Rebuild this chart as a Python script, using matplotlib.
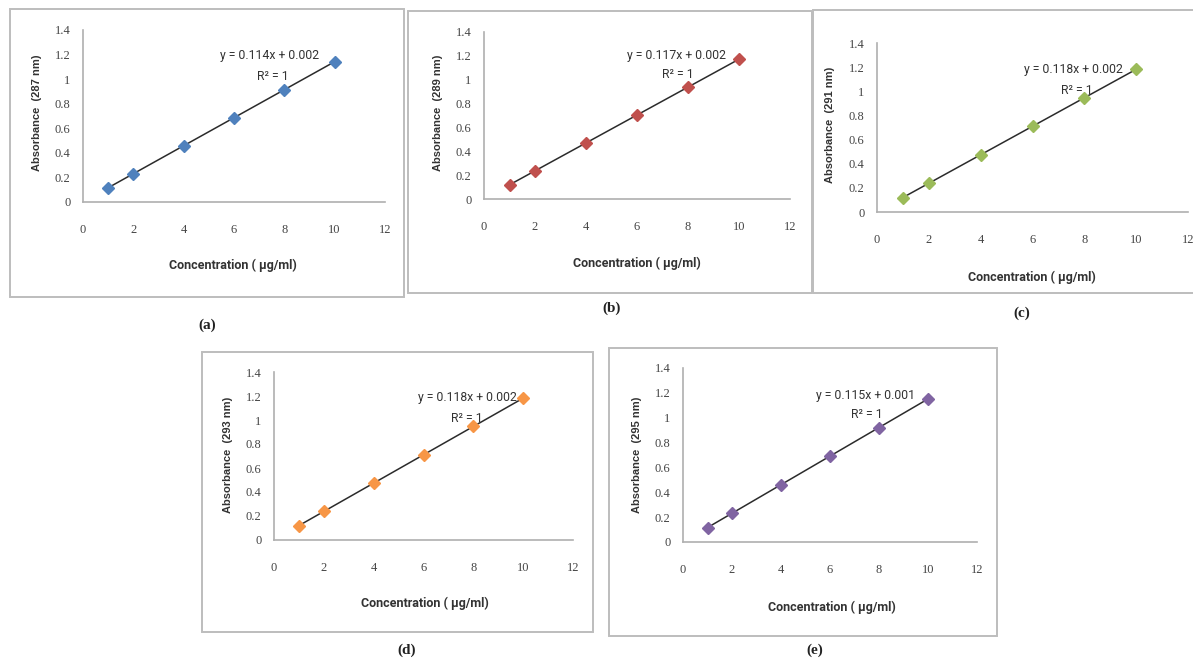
import matplotlib
matplotlib.use("Agg")
import matplotlib.pyplot as plt
from matplotlib.patches import Rectangle

W, H = 1193, 660

# ---- data ----
conc = [1, 2, 4, 6, 8, 10]
abs_287 = [0.116, 0.230, 0.458, 0.686, 0.914, 1.142]
abs_289 = [0.119, 0.236, 0.470, 0.704, 0.938, 1.172]
abs_291 = [0.120, 0.238, 0.474, 0.710, 0.946, 1.182]
abs_293 = [0.120, 0.238, 0.474, 0.710, 0.946, 1.182]
abs_295 = [0.116, 0.231, 0.461, 0.691, 0.921, 1.151]
wavelengths = ["287", "289", "291", "293", "295"]
equations = ["y = 0.114x + 0.002", "y = 0.117x + 0.002", "y = 0.118x + 0.002",
             "y = 0.118x + 0.002", "y = 0.115x + 0.001"]
panel_labels = ["(a)", "(b)", "(c)", "(d)", "(e)"]
xticks = [0, 2, 4, 6, 8, 10, 12]
yticks = [0, 0.2, 0.4, 0.6, 0.8, 1.0, 1.2, 1.4]
ytick_labels = ["0", "0.2", "0.4", "0.6", "0.8", "1", "1.2", "1.4"]
series = [abs_287, abs_289, abs_291, abs_293, abs_295]
colors = ["#4F81BD", "#C0504D", "#9BBB59", "#F79646", "#8064A2"]

# ---- layout (pixels, y from top) ----
boxes = [(10, 9, 404, 297), (408, 11, 812, 293), (813, 10, 1200, 293),
         (202, 352, 593, 632), (609, 348, 997, 636)]
axes_px = [(83, 30, 385, 202), (484, 32, 790, 199), (877, 43, 1188, 212),
           (274, 372, 573, 540), (683, 368, 977, 542)]
ylabel_xy = [(37, 113), (438, 113), (830, 125), (228, 455), (637, 455)]
xlabel_xy = [(233, 265), (637, 263), (1032, 277), (425, 603), (832, 607)]
eq_xy = [(270, 55), (677, 55), (1073, 70), (467, 397), (865, 395)]
r2_xy = [(273, 77), (678, 75), (1077, 91), (467, 418), (867, 415)]
plabel_xy = [(207, 325), (612, 308), (1022, 313), (407, 650), (815, 650)]

fig = plt.figure(figsize=(W / 100, H / 100), dpi=100)
fig.patch.set_facecolor("white")


def fx(x):
    return x / W


def fy(y):
    return 1 - y / H


for i in range(5):
    bl, bt, br, bb = boxes[i]
    fig.add_artist(Rectangle((fx(bl), fy(bb)), fx(br - bl), (bb - bt) / H,
                             transform=fig.transFigure, fill=False,
                             edgecolor="#BDBDBD", linewidth=1.4))

    al, at, ar, ab = axes_px[i]
    ax = fig.add_axes([fx(al), fy(ab), fx(ar - al), (ab - at) / H])
    ax.set_xlim(0, 12)
    ax.set_ylim(0, 1.4)
    ax.set_facecolor("none")
    for s in ["top", "right"]:
        ax.spines[s].set_visible(False)
    for s in ["left", "bottom"]:
        ax.spines[s].set_color("#AFAFAF")
        ax.spines[s].set_linewidth(1.2)
    ax.set_xticks(xticks)
    ax.set_xticklabels([str(t) for t in xticks], family="Liberation Serif",
                       fontsize=9, color="#444444")
    ax.set_yticks(yticks)
    ax.set_yticklabels(ytick_labels, family="Liberation Serif", fontsize=9,
                       color="#444444")
    ax.tick_params(axis="x", length=0, pad=16)
    ax.tick_params(axis="y", length=0, pad=9)

    ys = series[i]
    ax.plot([conc[0], conc[-1]], [ys[0], ys[-1]], color="#2B2B2B", lw=1.1,
            zorder=2)
    ax.plot(conc, ys, linestyle="none", marker="D", markersize=6,
            color=colors[i], markeredgecolor=colors[i], zorder=3,
            clip_on=False)

    fig.text(fx(ylabel_xy[i][0]), fy(ylabel_xy[i][1]),
             f"Absorbance  ({wavelengths[i]} nm)", rotation=90,
             ha="center", va="center", fontsize=8, fontweight="bold",
             family="Liberation Sans", color="#333333")
    fig.text(fx(xlabel_xy[i][0]), fy(xlabel_xy[i][1]),
             "Concentration ( µg/ml)", ha="center", va="center", fontsize=9,
             fontweight="bold", family="Roboto",
             color="#333333")
    fig.text(fx(eq_xy[i][0]), fy(eq_xy[i][1]), equations[i], ha="center",
             va="center", fontsize=8.8, family="Roboto",
             color="#333333")
    fig.text(fx(r2_xy[i][0]), fy(r2_xy[i][1]), "R² = 1", ha="center",
             va="center", fontsize=8.8, family="Roboto",
             color="#333333")
    fig.text(fx(plabel_xy[i][0]), fy(plabel_xy[i][1]), panel_labels[i],
             ha="center", va="center", fontsize=11, fontweight="bold",
             family="Liberation Serif", color="#222222")

fig.savefig("out.png", dpi=100, facecolor="white")
